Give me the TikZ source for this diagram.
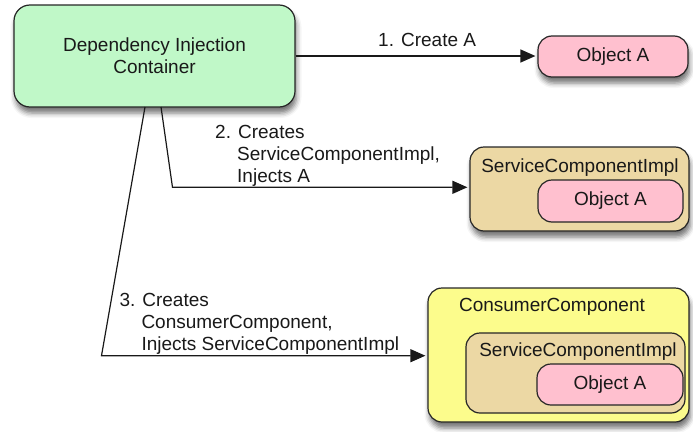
\documentclass[tikz,border=0pt]{standalone}
\usepackage{fontspec}
\setmainfont{Liberation Sans}
\usetikzlibrary{arrows.meta,shadows.blur}
\definecolor{digreen}{RGB}{192,248,200}
\definecolor{objpink}{RGB}{255,192,207}
\definecolor{svctan}{RGB}{236,216,164}
\definecolor{conyellow}{RGB}{252,252,140}
\begin{document}
\begin{tikzpicture}[x=1pt,y=-1pt,
  box/.style={draw=black!85, line width=1.2pt, rounded corners=14pt, inner sep=0pt},
  shad/.style={blur shadow={shadow xshift=1.5pt, shadow yshift=-6pt, shadow blur radius=5pt, shadow opacity=55}},
  txt/.style={font=\fontsize{19}{21.8}\selectfont, text=black!90, inner sep=0pt},
  conn/.style={line width=1.2pt, draw=black!90, -{Triangle[length=15pt,width=13pt]}, shorten >=2pt},
]
\useasboundingbox (0,0) rectangle (693,431);

% container
\node[box, shad, fill=digreen, minimum width=281pt, minimum height=102pt, rounded corners=16pt, txt, align=center] (dic) at (154.5,56) {Dependency Injection\\Container};

% object A (top)
\node[box, shad, fill=objpink, minimum width=150pt, minimum height=41pt, txt] (objA1) at (613,56.5) {Object A};

% service component
\node[box, shad, fill=svctan, minimum width=219pt, minimum height=84pt] (svc1) at (579.5,189) {};
\node[txt, anchor=base] (svc1title) at (580,172) {ServiceComponentImpl};
\node[box, fill=objpink, minimum width=145pt, minimum height=42pt, txt] (objA2) at (610.5,201) {Object A};

% consumer component
\node[box, shad, fill=conyellow, minimum width=261pt, minimum height=134pt] (cons) at (558.5,355) {};
\node[txt, anchor=base] (constitle) at (552,311.5) {ConsumerComponent};
\node[box, fill=svctan, minimum width=219pt, minimum height=80pt] (svc2) at (575.5,373) {};
\node[txt, anchor=base] (svc2title) at (578,356.5) {ServiceComponentImpl};
\node[box, fill=objpink, minimum width=146pt, minimum height=41pt, txt] (objA3) at (610,384.5) {Object A};

% connectors
\draw[conn] (dic.east) -- (dic.east -| objA1.west);
\coordinate (s2) at (161,107);
\coordinate (k2) at (172.5,187.3);
\draw[conn] (s2) -- (k2) -- (k2 -| svc1.west);
\coordinate (s3) at (145,107);
\coordinate (k3) at (101.5,355.7);
\draw[conn] (s3) -- (k3) -- (k3 -| cons.west);

% labels
\node[txt, anchor=base west] (l1) at (378,46) {1. Create A};
\node[txt, anchor=base west] (l2) at (215,138.7) {\begin{tabular}[t]{@{}l@{}}2. Creates\\ \hspace*{22pt}ServiceComponentImpl,\\ \hspace*{22pt}Injects A\end{tabular}};
\node[txt, anchor=base west] (l3) at (119.3,306.7) {\begin{tabular}[t]{@{}l@{}}3. Creates\\ \hspace*{22pt}ConsumerComponent,\\ \hspace*{22pt}Injects ServiceComponentImpl\end{tabular}};
\end{tikzpicture}
\end{document}
